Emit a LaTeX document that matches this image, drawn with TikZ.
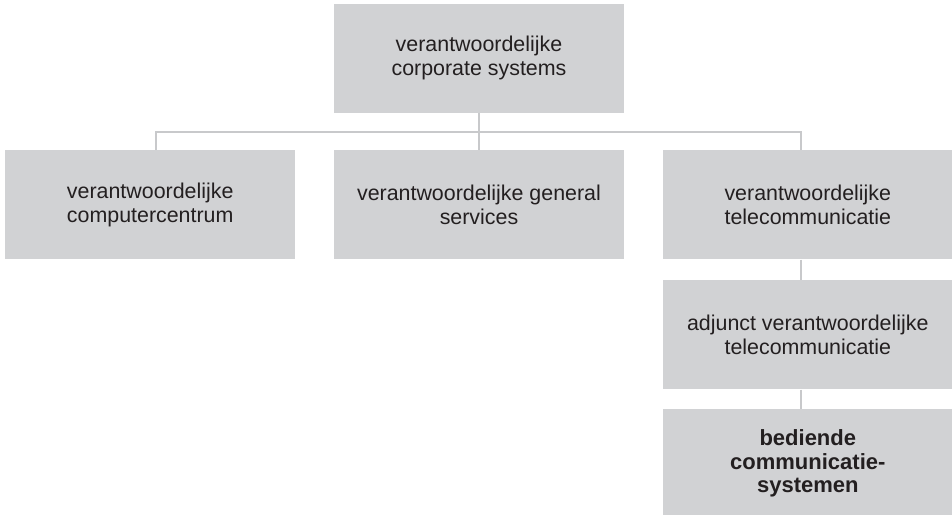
\documentclass[tikz,border=0pt]{standalone}
\usepackage{fontspec}
\setmainfont{Liberation Sans}
\usetikzlibrary{positioning}

\definecolor{boxgray}{RGB}{209,210,212}
\definecolor{linegray}{RGB}{200,201,203}
\definecolor{inkgray}{RGB}{35,31,32}

\begin{document}
\begin{tikzpicture}[node distance=19pt,
  box/.style={rectangle,fill=boxgray,text=inkgray,minimum width=145pt,minimum height=54.5pt,
    inner sep=0pt,align=center,font=\fontsize{10.7}{12}\selectfont},
  link/.style={draw=linegray,line width=1pt}]

\useasboundingbox (0,0) rectangle (476pt,-257pt);

\node[box] (sys)                   at (239.5pt,-29pt) {verantwoordelijke\\corporate systems};
\node[box] (gen)    [below=18.5pt of sys] {verantwoordelijke general\\services};
\node[box] (comp)   [left=of gen]         {verantwoordelijke\\computercentrum};
\node[box] (tele)   [right=of gen]        {verantwoordelijke\\telecommunicatie};
\node[box] (adj)    [below=10pt of tele]  {adjunct verantwoordelijke\\telecommunicatie};
\node[box,font=\fontsize{11}{11.8}\selectfont\bfseries]
           (comsys) [below=9.5pt of adj]  {bediende\\communicatie-\\systemen};

\path[link]
(sys) edge (gen);
\draw[link] ([xshift=3pt]comp.north) |- ([xshift=-3.5pt,yshift=9pt]tele.north)
            -- ([xshift=-3.5pt]tele.north);
\draw[link] ([xshift=-3.5pt]tele.south) -- ([xshift=-3.5pt]adj.north);
\draw[link] ([xshift=-3.5pt]adj.south) -- ([xshift=-3.5pt]comsys.north);
\end{tikzpicture}
\end{document}
